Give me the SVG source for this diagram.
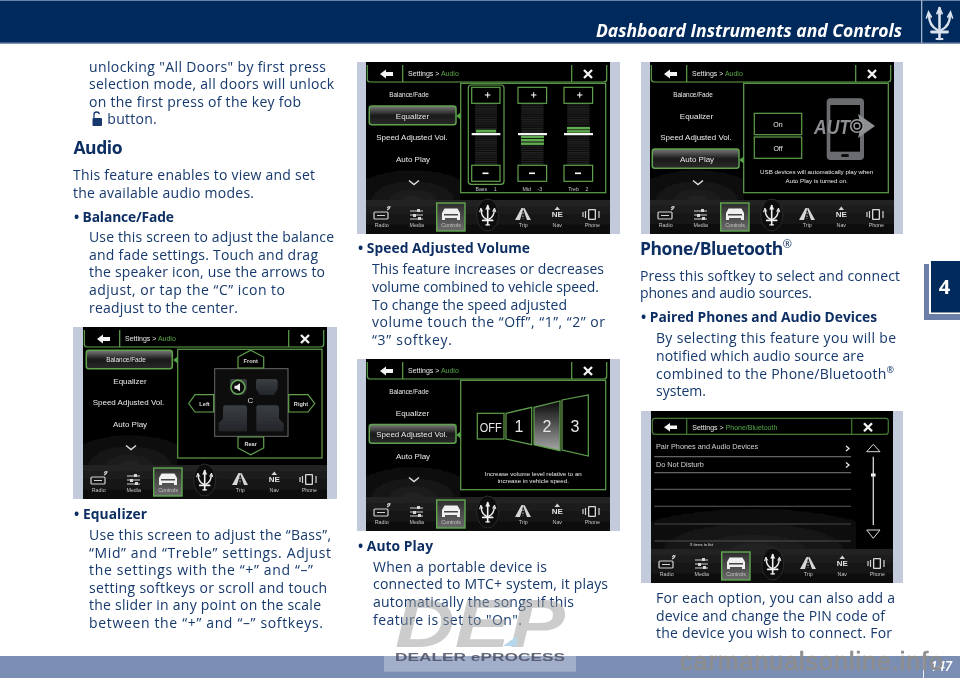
<svg xmlns="http://www.w3.org/2000/svg" xmlns:xlink="http://www.w3.org/1999/xlink" width="960" height="678" viewBox="0 0 960 678">
<style>
.t{font-family:"Open Sans","Noto Sans","Liberation Sans",sans-serif;font-size:14px;fill:#15396c}
.s{font-family:"Open Sans","Noto Sans","Liberation Sans",sans-serif;font-size:13.8px;font-weight:700;fill:#0d2f63}
.h{font-family:"Open Sans","Noto Sans","Liberation Sans",sans-serif;font-size:17.5px;font-weight:700;fill:#0d2f63}
.u{font-family:"Liberation Sans","Open Sans",sans-serif;fill:#e6e6e6;font-size:7px}
.m{font-family:"Liberation Sans","Open Sans",sans-serif;fill:#e8e8e8;font-size:8px;text-anchor:middle}
.n{font-family:"Liberation Sans","Open Sans",sans-serif;fill:#c4c4c4;font-size:5.3px;text-anchor:middle}
.c{font-family:"Liberation Sans","Open Sans",sans-serif;fill:#dcdcdc;font-size:5.6px;text-anchor:middle;font-weight:700}
.g{fill:none;stroke:#5fa14d;stroke-width:1.2}
.gt{fill:#57a548}
.pn{fill:#c3cadc}
.bk{fill:#040404}
.ic{fill:none;stroke:#d2d2d2;stroke-width:1.2}
.if{fill:#d6d6d6}
</style>
<defs>
<filter id="b1" x="-2%" y="-2%" width="104%" height="104%"><feGaussianBlur stdDeviation="0.4"/></filter>
<filter id="b2" x="-2%" y="-2%" width="104%" height="104%"><feGaussianBlur stdDeviation="0.6"/></filter>
<linearGradient id="sel" x1="0" y1="0" x2="0" y2="1"><stop offset="0" stop-color="#7a7a7a"/><stop offset="0.5" stop-color="#1a1a1a"/><stop offset="1" stop-color="#2a2a2a"/></linearGradient>
<linearGradient id="ctl" x1="0" y1="0" x2="0" y2="1"><stop offset="0" stop-color="#2e2e2e"/><stop offset="1" stop-color="#6a6a6a"/></linearGradient>
<linearGradient id="navg" x1="0" y1="0" x2="0" y2="1"><stop offset="0" stop-color="#242424"/><stop offset="1" stop-color="#0a0a0a"/></linearGradient>
<linearGradient id="two" x1="0" y1="0" x2="0" y2="1"><stop offset="0" stop-color="#0a0a0a"/><stop offset="1" stop-color="#a5a5a5"/></linearGradient>
<linearGradient id="seat" x1="0" y1="0" x2="0" y2="1"><stop offset="0" stop-color="#3a3e42"/><stop offset="1" stop-color="#23262a"/></linearGradient>
<radialGradient id="floor" cx="0.5" cy="1" r="0.75"><stop offset="0" stop-color="#242424"/><stop offset="1" stop-color="#040404"/></radialGradient>
<pattern id="stripes" width="4" height="2.200" patternUnits="userSpaceOnUse"><rect width="4" height="2.200" fill="#0c0c0c"/><rect width="4" height="1" fill="#262626"/></pattern>
<g id="trident" fill="none" stroke-linecap="round">
<path d="M0-16V15" stroke-width="2.600"/><path d="M-3-10.500 0-17 3-10.500Z" fill="currentColor" stroke-width="1"/>
<path d="M-10.500-9C-10.500-2-8 3-2 6M10.500-9C10.500-2 8 3 2 6" stroke-width="2.400"/><path d="M-13-6-11-12-8.200-7M13-6 11-12 8.200-7" stroke-width="1.600"/>
<path d="M-8 8H8" stroke-width="2.800"/><path d="M-3 15H3" stroke-width="2"/>
</g>
<g id="head">
<path class="g" d="M1.300 3V17Q1.300 20 4 20H238Q240.700 20 240.700 17V3"/>
<path class="g" d="M36.700 3V20M205.700 3V20"/>
<path fill="#f4f4f4" d="M14 12 20 7.500V10H27V14H20V16.500Z"/>
<path d="M218 8 226 16M226 8 218 16" stroke="#f4f4f4" stroke-width="2.300" fill="none"/>
</g>
<g id="nav">
<rect y="138" width="244" height="34" fill="url(#navg)"/>
<rect class="ic" x="8" y="150" width="14" height="7" rx="1"/><path class="ic" d="M11 153.500H19M21 148Q24 147 24 144M21 146Q22.500 145.500 22.500 144" stroke-width="0.900"/>
<path class="ic" d="M44 149H57M44 153H57M44 157H57"/><rect class="if" x="51" y="147" width="3" height="3"/><rect class="if" x="47" y="152" width="3" height="3"/><rect class="if" x="52" y="155" width="3" height="3"/>
<rect x="70.700" y="141" width="28.300" height="28" fill="url(#ctl)" stroke="#62a84f" stroke-width="1.400"/>
<path fill="#f0f0f0" d="M76 151 78.500 146.500H91.500L94 151V158H91V156H79V158H76Z"/><rect x="78" y="152" width="14" height="1.500" fill="#444"/>
<ellipse cx="121.700" cy="153" rx="11" ry="16" fill="#0c0c0c" stroke="#2b2b2b"/>
<use xlink:href="#trident" href="#trident" transform="translate(121.700 153.500) scale(.62)" stroke="#f0f0f0" color="#f0f0f0"/>
<path class="if" d="M149 158 155.500 146H157.500L154 158ZM165 158 158.500 146H156.800L161 158Z"/><path d="M157 150.500V157" stroke="#cfcfcf" stroke-dasharray="1.500 1.500"/>
<path class="if" d="M191.300 144.500 194 148H188.500Z"/>
<rect class="if" x="222" y="147" width="8" height="11" rx="1"/><rect x="223.300" y="148.300" width="5.400" height="8.400" fill="#111"/><path class="ic" d="M219.500 149V156M233 149V156M217 150V155"/>
</g>
<g id="ptr"><path class="gt" d="M0-3.500V3.500L-4.500 0Z"/></g>
</defs>

<g filter="url(#b1)">
<g id="header">
<rect width="960" height="43.500" fill="#032a5b"/>
<rect width="960" height="1" fill="#6d83a5"/>
<rect y="42.500" width="960" height="1.200" fill="#7e92b0"/>
<rect x="921" y="0" width="1.300" height="43" fill="#9fb0c8"/>
<text x="596" y="37" textLength="306" lengthAdjust="spacingAndGlyphs" style="font-family:'Open Sans','Noto Sans',sans-serif;font-size:17px;font-weight:700;font-style:italic;fill:#fff">Dashboard Instruments and Controls</text>
<use xlink:href="#trident" href="#trident" transform="translate(939.500 24)" stroke="#d9e2ee" color="#d9e2ee"/>
</g>

<g id="footer">
<rect y="656" width="960" height="22" fill="#7a8db3"/>
<rect x="923" y="656" width="1" height="22" fill="#f2f4f8"/>
<text x="930" y="671" style="font-family:'Open Sans',sans-serif;font-size:13.500px;font-weight:600;font-style:italic;fill:#fff">147</text>
</g>

<g id="chapter-tab">
<rect x="924" y="264" width="36" height="56" fill="#6a7ea8"/>
<rect x="929" y="259" width="31" height="55" fill="#fff"/>
<rect x="931" y="261" width="29" height="51.500" fill="#032a5b"/>
<text x="944.500" y="294" text-anchor="middle" style="font-family:'Open Sans',sans-serif;font-size:20px;font-weight:700;fill:#fff">4</text>
</g>

<g id="col1">
<text class="t" x="89" y="71.700" textLength="237">unlocking "All Doors" by first press</text>
<text class="t" x="89" y="89" textLength="245">selection mode, all doors will unlock</text>
<text class="t" x="89" y="106.500" textLength="212">on the first press of the key fob</text>
<path d="M94 118V114.500Q94 112 96.500 112Q99 112 99.500 114" fill="none" stroke="#15396c" stroke-width="1.300"/><rect x="92.500" y="118" width="9.500" height="8" rx="1" fill="#15396c"/>
<text class="t" x="107.300" y="124" textLength="49.500">button.</text>
<text class="h" x="73.500" y="154" textLength="49">Audio</text>
<text class="t" x="73" y="180" textLength="242">This feature enables to view and set</text>
<text class="t" x="73" y="197.500" textLength="181">the available audio modes.</text>
<text class="s" x="74" y="221.500" textLength="100">• Balance/Fade</text>
<text class="t" x="89" y="242" textLength="245">Use this screen to adjust the balance</text>
<text class="t" x="89" y="259.500" textLength="229">and fade settings. Touch and drag</text>
<text class="t" x="89" y="277" textLength="236">the speaker icon, use the arrows to</text>
<text class="t" x="89" y="295" textLength="196">adjust, or tap the “C” icon to</text>
<text class="t" x="89" y="312.500" textLength="149">readjust to the center.</text>
<text class="s" x="74" y="519" textLength="73">• Equalizer</text>
<text class="t" x="89" y="540" textLength="242">Use this screen to adjust the “Bass”,</text>
<text class="t" x="89" y="558" textLength="242">“Mid” and “Treble” settings. Adjust</text>
<text class="t" x="89" y="575" textLength="224">the settings with the “+” and “–”</text>
<text class="t" x="89" y="593" textLength="238">setting softkeys or scroll and touch</text>
<text class="t" x="89" y="610" textLength="232">the slider in any point on the scale</text>
<text class="t" x="89" y="628" textLength="234">between the “+” and “–” softkeys.</text>
</g>

<g id="col2">
<text class="s" x="358" y="253" textLength="172">• Speed Adjusted Volume</text>
<text class="t" x="372" y="274" textLength="232">This feature increases or decreases</text>
<text class="t" x="372" y="292" textLength="227">volume combined to vehicle speed.</text>
<text class="t" x="372" y="309.500" textLength="195">To change the speed adjusted</text>
<text class="t" x="372" y="327" textLength="233">volume touch the “Off”, “1”, “2” or</text>
<text class="t" x="372" y="345" textLength="80">“3” softkey.</text>
<text class="s" x="358" y="551" textLength="75">• Auto Play</text>
<text class="t" x="373" y="571.700" textLength="174">When a portable device is</text>
<text class="t" x="373" y="589" textLength="235">connected to MTC+ system, it plays</text>
<text class="t" x="373" y="607" textLength="201">automatically the songs if this</text>
<text class="t" x="373" y="624.500" textLength="149">feature is set to "On".</text>
</g>

<g id="col3">
<text class="h" x="640" y="255" textLength="152">Phone/Bluetooth<tspan dy="-7" font-size="11" font-weight="400">®</tspan></text>
<text class="t" x="640" y="280.700" textLength="260">Press this softkey to select and connect</text>
<text class="t" x="640" y="298" textLength="172">phones and audio sources.</text>
<text class="s" x="641" y="322.300" textLength="236">• Paired Phones and Audio Devices</text>
<text class="t" x="656" y="343" textLength="240">By selecting this feature you will be</text>
<text class="t" x="656" y="361" textLength="208">notified which audio source are</text>
<text class="t" x="656" y="378.700" textLength="238">combined to the Phone/Bluetooth<tspan dy="-6" font-size="9">®</tspan></text>
<text class="t" x="656" y="396" textLength="50">system.</text>
<text class="t" x="656" y="603" textLength="239">For each option, you can also add a</text>
<text class="t" x="656" y="620.500" textLength="229">device and change the PIN code of</text>
<text class="t" x="656" y="638" textLength="236">the device you wish to connect. For</text>
</g>
</g>

<rect class="pn" x="73" y="327" width="264" height="172"/>
<rect class="pn" x="357" y="62" width="263" height="172"/>
<rect class="pn" x="357" y="359" width="263" height="172"/>
<rect class="pn" x="641" y="62" width="262" height="172"/>
<rect class="pn" x="641" y="411" width="262" height="172"/>

<g filter="url(#b2)">
<g id="screen-balance" transform="translate(83 327)">
<rect class="bk" width="244" height="172"/>
<rect y="95" width="94" height="43" fill="url(#floor)"/>
<use xlink:href="#head" href="#head"/>
<text class="u" x="42" y="14">Settings &gt; <tspan fill="#57a548">Audio</tspan></text>
<rect class="g" x="94.700" y="22.300" width="144.300" height="108.700" stroke-width="1.300"/>
<rect x="3.300" y="23.300" width="86" height="18.400" rx="2.500" fill="url(#sel)" stroke="#5fa14d" stroke-width="1.500"/>
<use xlink:href="#ptr" href="#ptr" transform="translate(94.700 33)"/>
<text class="m" x="43" y="35" style="font-size:6.400px">Balance/Fade</text>
<text class="m" x="47" y="56.700">Equalizer</text>
<text class="m" x="45.500" y="78.300">Speed Adjusted Vol.</text>
<text class="m" x="47" y="100.300">Auto Play</text>
<path d="M43 118.500 48 122.500 53 118.500" fill="none" stroke="#e0e0e0" stroke-width="1.400"/>
<rect x="131.700" y="41.700" width="73.300" height="67.600" fill="#0d0d0d" stroke="#6a6a6a"/>
<path class="g" d="M167.700 23.300 180.700 30V41H155V30Z"/>
<path class="g" d="M155 110H180.700V121L167.700 127.700 155 121Z"/>
<path class="g" d="M105.700 76.500 112 67.700H130.700V85H112Z"/>
<path class="g" d="M205.700 67.700H225L231.700 76.500 225 85H205.700Z"/>
<g fill="url(#seat)">
<path d="M148 52H162Q164 52 164 54V62L161 68H150L147 62V54Q147 52 148 52Z"/><path d="M175 52H192Q194.700 52 194.700 54V62L191 68H177L173 62V54Q173 52 175 52Z"/>
<path d="M142 78.300H162Q164 78.300 164 81V104.300H135.700V96L140 92V81Q140 78.300 142 78.300Z"/><path d="M175 78.300H194Q196 78.300 196 81V92L200.700 96V104.300H173.300V81Q173.300 78.300 175 78.300Z"/>
</g>
<circle cx="155" cy="60.300" r="7" fill="#111" stroke="#67a955" stroke-width="1.500"/>
<path fill="#eee" d="M151.500 58.800H153.500L157 56.300V64.300L153.500 61.800H151.500Z"/>
<text class="c" x="167.300" y="75.600" style="font-size:8px;font-weight:400">C</text>
<text class="c" x="167.700" y="36">Front</text><text class="c" x="167.700" y="119">Rear</text><text class="c" x="121.500" y="79">Left</text><text class="c" x="218" y="79">Right</text>
<use xlink:href="#nav" href="#nav"/>
<text class="n" x="15.700" y="165">Radio</text><text class="n" x="50.700" y="165">Media</text><text class="n" x="85" y="165">Controls</text><text class="n" x="157.300" y="165">Trip</text><text class="n" x="191.300" y="155" style="font-size:8px;font-weight:700;fill:#e0e0e0">NE</text><text class="n" x="191.300" y="165">Nav</text><text class="n" x="226.300" y="165">Phone</text>
</g>

<g id="screen-equalizer" transform="translate(366 62)">
<rect class="bk" width="244" height="172"/>
<rect y="95" width="94" height="43" fill="url(#floor)"/>
<use xlink:href="#head" href="#head"/>
<text class="u" x="42" y="14">Settings &gt; <tspan fill="#57a548">Audio</tspan></text>
<rect class="g" x="94.700" y="21.300" width="145" height="109.400" stroke-width="1.300"/>
<rect x="3.300" y="44" width="86.700" height="18.700" rx="2.500" fill="url(#sel)" stroke="#5fa14d" stroke-width="1.500"/>
<use xlink:href="#ptr" href="#ptr" transform="translate(94.700 54)"/>
<text class="m" x="43" y="35" style="font-size:6.400px">Balance/Fade</text>
<text class="m" x="46.500" y="56.700">Equalizer</text>
<text class="m" x="46" y="78.300">Speed Adjusted Vol.</text>
<text class="m" x="47" y="100.300">Auto Play</text>
<path d="M43 118.500 48 122.500 53 118.500" fill="none" stroke="#e0e0e0" stroke-width="1.400"/>
<g fill="url(#stripes)"><rect x="109" y="41" width="22" height="62"/><rect x="155.300" y="41" width="22" height="62"/><rect x="201.300" y="41" width="22" height="62"/></g>
<rect class="g" x="102.300" y="23" width="35.700" height="99.300" rx="3"/>
<g class="g" stroke-width="1.100"><rect x="105.700" y="25.300" width="28.300" height="16"/><rect x="105.700" y="103.300" width="28.300" height="16"/><rect x="152" y="25.300" width="28.600" height="16"/><rect x="152" y="103.300" width="28.600" height="16"/><rect x="198" y="25.300" width="28.600" height="16"/><rect x="198" y="103.300" width="28.600" height="16"/></g>
<g fill="#fff"><path d="M118.800 32.500H121.200V30.300H122.200V32.500H124.400V33.500H122.200V35.700H121.200V33.500H118.800Z"/><path d="M165 32.500H167.200V30.300H168.200V32.500H170.400V33.500H168.200V35.700H167.200V33.500H165Z"/><path d="M211 32.500H213.200V30.300H214.200V32.500H216.400V33.500H214.200V35.700H213.200V33.500H211Z"/><rect x="116.500" y="110.500" width="6" height="1.600"/><rect x="163" y="110.500" width="6" height="1.600"/><rect x="209" y="110.500" width="6" height="1.600"/></g>
<g fill="#5fae4d"><rect x="110" y="67.700" width="20" height="2.800"/><rect x="155" y="73.700" width="23" height="2.400"/><rect x="155" y="77" width="23" height="2.400"/><rect x="155" y="80.500" width="23" height="2.400"/><rect x="201" y="65" width="23" height="2.400"/><rect x="201" y="68.200" width="23" height="2.400"/></g>
<g fill="#f4f4f4"><rect x="105.700" y="71" width="28.700" height="2.200"/><rect x="152" y="71" width="29" height="2.200"/><rect x="198" y="71" width="29" height="2.200"/></g>
<g style="word-spacing:5px"><text class="n" x="120" y="129.300" style="font-size:5.300px">Bass 1</text><text class="n" x="166.300" y="129.300" style="font-size:5.300px">Mid -3</text><text class="n" x="212.300" y="129.300" style="font-size:5.300px">Treb 2</text></g>
<use xlink:href="#nav" href="#nav"/>
<text class="n" x="15.700" y="165">Radio</text><text class="n" x="50.700" y="165">Media</text><text class="n" x="85" y="165">Controls</text><text class="n" x="157.300" y="165">Trip</text><text class="n" x="191.300" y="155" style="font-size:8px;font-weight:700;fill:#e0e0e0">NE</text><text class="n" x="191.300" y="165">Nav</text><text class="n" x="226.300" y="165">Phone</text>
</g>

<g id="screen-speed" transform="translate(366 359)">
<rect class="bk" width="244" height="172"/>
<rect y="95" width="94" height="43" fill="url(#floor)"/>
<use xlink:href="#head" href="#head"/>
<text class="u" x="42" y="14">Settings &gt; <tspan fill="#57a548">Audio</tspan></text>
<rect class="g" x="94.700" y="21.300" width="145" height="109.400" stroke-width="1.300"/>
<rect x="3.300" y="65.500" width="86.700" height="18.700" rx="2.500" fill="url(#sel)" stroke="#5fa14d" stroke-width="1.500"/>
<use xlink:href="#ptr" href="#ptr" transform="translate(94.700 76)"/>
<text class="m" x="43" y="35" style="font-size:6.400px">Balance/Fade</text>
<text class="m" x="46.500" y="56.700">Equalizer</text>
<text class="m" x="46" y="78.300">Speed Adjusted Vol.</text>
<text class="m" x="47" y="100.300">Auto Play</text>
<path d="M43 118.500 48 122.500 53 118.500" fill="none" stroke="#e0e0e0" stroke-width="1.400"/>
<rect class="g" x="111.300" y="54.300" width="26.700" height="25.700"/>
<path class="g" d="M140 54.300 165.700 48.300V85.700L140 80Z"/>
<path class="g" d="M168 48.300 194 42V91.700L168 85.700Z" style="fill:url(#two)"/>
<path class="g" d="M196 41 222.300 36V97L196 91Z"/>
<g fill="#e8e8e8" style="font-family:'Liberation Sans',sans-serif"><text x="113.700" y="72.500" font-size="13" textLength="22" lengthAdjust="spacingAndGlyphs">OFF</text><text x="153" y="73.300" font-size="16" text-anchor="middle">1</text><text x="181" y="73.300" font-size="16" text-anchor="middle">2</text><text x="209" y="73.300" font-size="16" text-anchor="middle">3</text></g>
<text class="m" x="167.300" y="117.300" style="font-size:6.200px">Increase volume level relative to an</text>
<text class="m" x="167.300" y="124" style="font-size:6.200px">increase in vehicle speed.</text>
<use xlink:href="#nav" href="#nav"/>
<text class="n" x="15.700" y="165">Radio</text><text class="n" x="50.700" y="165">Media</text><text class="n" x="85" y="165">Controls</text><text class="n" x="157.300" y="165">Trip</text><text class="n" x="191.300" y="155" style="font-size:8px;font-weight:700;fill:#e0e0e0">NE</text><text class="n" x="191.300" y="165">Nav</text><text class="n" x="226.300" y="165">Phone</text>
</g>

<g id="screen-autoplay" transform="translate(650 62)">
<rect class="bk" width="244" height="172"/>
<rect y="95" width="94" height="43" fill="url(#floor)"/>
<use xlink:href="#head" href="#head"/>
<text class="u" x="42" y="14">Settings &gt; <tspan fill="#57a548">Audio</tspan></text>
<rect class="g" x="93.700" y="21.300" width="144.600" height="109.400" stroke-width="1.300"/>
<rect x="2.300" y="87" width="86.700" height="19.300" rx="2.500" fill="url(#sel)" stroke="#5fa14d" stroke-width="1.500"/>
<use xlink:href="#ptr" href="#ptr" transform="translate(93.700 98)"/>
<text class="m" x="43" y="35" style="font-size:6.400px">Balance/Fade</text>
<text class="m" x="46.500" y="56.700">Equalizer</text>
<text class="m" x="46" y="78.300">Speed Adjusted Vol.</text>
<text class="m" x="47" y="100.300">Auto Play</text>
<path d="M43 118.500 48 122.500 53 118.500" fill="none" stroke="#e0e0e0" stroke-width="1.400"/>
<rect class="g" x="104.300" y="51.300" width="47.400" height="21.400"/>
<rect class="g" x="104.300" y="75" width="47.400" height="21.300"/>
<text class="m" x="128" y="65" style="font-size:7px">On</text><text class="m" x="128" y="88.500" style="font-size:7px">Off</text>
<rect x="176.700" y="36.300" width="37.300" height="61.700" rx="4" fill="#6a6c70"/>
<rect x="180.300" y="43" width="29.700" height="46.700" fill="#040404"/>
<rect x="191" y="92" width="8" height="3" rx="1.500" fill="#111"/>
<text x="164" y="71.500" textLength="36" lengthAdjust="spacingAndGlyphs" style="font-family:'Liberation Sans',sans-serif;font-size:21px;font-weight:700;font-style:italic;fill:#8d8f92">AUT</text>
<path d="M208 52 225 64 208 76 211 64Z" fill="#8d8f92"/>
<circle cx="207" cy="64" r="6.300" fill="#040404" stroke="#9a9c9f" stroke-width="1.600"/><circle cx="207" cy="64" r="3" fill="none" stroke="#9a9c9f" stroke-width="1.300"/>
<text class="m" x="166.700" y="112.300" style="font-size:6.200px">USB devices will automatically play when</text>
<text class="m" x="166.700" y="120.700" style="font-size:6.200px">Auto Play is turned on.</text>
<use xlink:href="#nav" href="#nav"/>
<text class="n" x="15.700" y="165">Radio</text><text class="n" x="50.700" y="165">Media</text><text class="n" x="85" y="165">Controls</text><text class="n" x="157.300" y="165">Trip</text><text class="n" x="191.300" y="155" style="font-size:8px;font-weight:700;fill:#e0e0e0">NE</text><text class="n" x="191.300" y="165">Nav</text><text class="n" x="226.300" y="165">Phone</text>
</g>

<g id="screen-phone" transform="translate(651 411)">
<rect class="bk" width="242" height="172"/>
<rect x="0" y="80" width="205" height="58" fill="url(#floor)"/>
<path class="g" d="M4 7.300H235Q237.300 7.300 237.300 10V20.300Q237.300 23.300 235 23.300H4Q1.300 23.300 1.300 20.300V10Q1.300 7.300 4 7.300ZM35.700 7.300V23.300M200.700 7.300V23.300" style="stroke:#3f7a35"/>
<path fill="#f4f4f4" d="M13 16.300 19 12V14.500H26V18H19V20.600Z"/>
<path d="M213 12.300 221 20.300M221 12.300 213 20.300" stroke="#f4f4f4" stroke-width="2.300" fill="none"/>
<text class="u" x="41.300" y="18.700">Settings &gt; <tspan fill="#4fa545">Phone/Bluetooth</tspan></text>
<text x="5" y="38.300" style="font-family:'Liberation Sans',sans-serif;font-size:7.300px;fill:#cfcfcf">Pair Phones and Audio Devices</text>
<text x="5" y="56.300" style="font-family:'Liberation Sans',sans-serif;font-size:7.300px;fill:#cfcfcf">Do Not Disturb</text>
<path d="M195 35 198 37.500 195 40M195 51.500 198 54 195 56.500" fill="none" stroke="#e8e8e8" stroke-width="1.300"/>
<g stroke-width="0.800"><path d="M3.300 45.700H200M3.300 61.700H200" stroke="#9a9a9a"/><path d="M3.300 78.300H200" stroke="#888"/><path d="M3.300 95.300H200" stroke="#6a6a6a"/><path d="M3.300 113H200M3.300 130H200" stroke="#5e5e5e"/></g>
<path d="M215.700 40.700 222.300 33.300 229 40.700ZM215.700 119 222.300 127.300 229 119Z" fill="none" stroke="#d8d8d8"/>
<path d="M222.300 45.700V114" stroke="#d8d8d8" stroke-width="1.300"/><rect x="220" y="62.500" width="4.600" height="3" fill="#f0f0f0"/>
<text x="39" y="135" style="font-family:'Liberation Sans',sans-serif;font-size:3.600px;font-weight:700;fill:#bbb">X items in list</text>
<use xlink:href="#nav" href="#nav"/>
<rect x="242" y="138" width="2" height="34" fill="#c3cadc"/>
<text class="n" x="15.700" y="165">Radio</text><text class="n" x="50.700" y="165">Media</text><text class="n" x="85" y="165">Controls</text><text class="n" x="157.300" y="165">Trip</text><text class="n" x="191.300" y="155" style="font-size:8px;font-weight:700;fill:#e0e0e0">NE</text><text class="n" x="191.300" y="165">Nav</text><text class="n" x="226.300" y="165">Phone</text>
</g>
</g>

<g id="watermark-dep" filter="url(#b1)">
<rect x="384" y="656" width="192" height="15.700" fill="#fff" opacity="0.3"/>
<text x="395" y="647" textLength="170" lengthAdjust="spacingAndGlyphs" style="font-family:'Liberation Sans',sans-serif;font-size:68px;font-weight:700;font-style:italic;fill:#9a9a9a;opacity:.5">DEP</text>
<path d="M517 636V646H503Z" fill="#b7d7ee"/>
<text x="395" y="661" textLength="170" lengthAdjust="spacingAndGlyphs" style="font-family:'Liberation Sans',sans-serif;font-size:11px;font-weight:700;fill:#4a5064;opacity:.85">DEALER ePROCESS</text>
</g>
<text id="watermark-site" x="680" y="670" textLength="263" style="font-family:'Liberation Sans',sans-serif;font-size:25px;fill:#8e8e8e;stroke:#8e8e8e;stroke-width:.7">carmanualsonline.info</text>
</svg>
